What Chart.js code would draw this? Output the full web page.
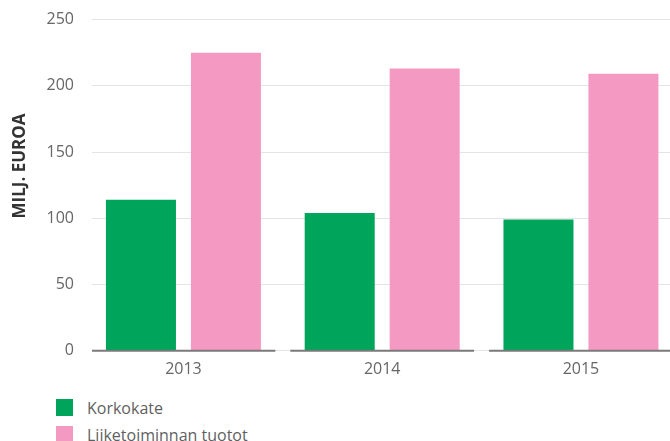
<!DOCTYPE html>
<html>
<head>
<meta charset="utf-8">
<script src="https://cdn.jsdelivr.net/npm/chart.js@4/dist/chart.umd.min.js"></script>
<style>
  html, body { margin: 0; padding: 0; background: #fff; }
  #wrap { position: relative; width: 670px; height: 441px; overflow: hidden; }
  #chart { display: block; }
  #legend { position: absolute; left: 56px; top: 394px; font-family: "Open Sans", sans-serif; font-size: 16px; color: #5f5f5f; }
  #legend .item { display: flex; align-items: center; height: 27px; line-height: 20px; }
  #legend .box { width: 17px; height: 17px; margin-right: 14px; }
</style>
</head>
<body>
<div id="wrap">
  <canvas id="chart" width="670" height="390"></canvas>
  <div id="legend"></div>
</div>
<script>
const years = ['2013', '2014', '2015'];
const korkokate = [114, 104, 99];
const liiketoiminnanTuotot = [225, 213, 209];
const yTicks = [0, 50, 100, 150, 200, 250];
const seriesNames = ['Korkokate', 'Liiketoiminnan tuotot'];
const colors = ['#00a55c', '#f49ac2'];

const FONT = '"Open Sans", sans-serif';
const GREY = '#666666';

// separate baseline piece under each year group
const baselinePlugin = {
    id: 'baseline',
    afterDatasetsDraw(chart) {
        const { ctx, chartArea, scales } = chart;
        const y = scales.y.getPixelForValue(0);
        const gap = 7.5;
        ctx.save();
        ctx.strokeStyle = '#7a7a7a';
        ctx.lineWidth = 2;
        years.forEach((_, i) => {
            const left = i === 0 ? chartArea.left : scales.x.getPixelForValue(i - 0.5) + gap;
            const right = i === years.length - 1 ? chartArea.right : scales.x.getPixelForValue(i + 0.5) - gap;
            ctx.beginPath();
            ctx.moveTo(left, y);
            ctx.lineTo(right, y);
            ctx.stroke();
        });
        ctx.restore();
    }
};

// rotated unit title, sits a bit above centre like the original
const unitTitlePlugin = {
    id: 'unitTitle',
    afterDraw(chart) {
        const ctx = chart.ctx;
        ctx.save();
        ctx.translate(20, 166);
        ctx.rotate(-Math.PI / 2);
        ctx.font = 'bold 17px ' + FONT;
        ctx.fillStyle = '#333333';
        ctx.textAlign = 'center';
        ctx.textBaseline = 'middle';
        ctx.fillText('MILJ. EUROA', 0, 0);
        ctx.restore();
    }
};

const ctx = document.getElementById('chart').getContext('2d');
const chart = new Chart(ctx, {
    type: 'bar',
    data: {
        datasets: [korkokate, liiketoiminnanTuotot].map((vals, s) => ({
            label: seriesNames[s],
            data: vals.map((v, i) => ({ x: i, y: v })),
            backgroundColor: colors[s],
            borderWidth: 0,
            categoryPercentage: 0.855,
            barPercentage: 0.824
        }))
    },
    options: {
        responsive: false,
        animation: false,
        layout: { padding: { top: 19.5, right: 0, bottom: 10, left: 0 } },
        scales: {
            x: {
                type: 'linear',
                offset: false,
                min: -0.46,
                max: 2.448,
                afterBuildTicks: scale => {
                    scale.ticks = years.map((_, i) => ({ value: i }));
                },
                ticks: {
                    callback: v => years[v],
                    color: GREY,
                    font: { family: FONT, size: 16 },
                    padding: 1,
                    maxRotation: 0
                },
                grid: { display: false, offset: false },
                border: { display: false }
            },
            y: {
                min: 0,
                max: 250,
                afterBuildTicks: scale => {
                    scale.ticks = yTicks.map(v => ({ value: v }));
                },
                afterFit: scale => { scale.width = 92; },
                ticks: {
                    color: GREY,
                    font: { family: FONT, size: 16 },
                    padding: 0
                },
                grid: { color: '#e4e4e4', lineWidth: 1, drawTicks: true, tickLength: 18, tickColor: 'rgba(0,0,0,0)' },
                border: { display: false }
            }
        },
        plugins: {
            legend: { display: false },
            tooltip: { enabled: false }
        }
    },
    plugins: [baselinePlugin, unitTitlePlugin]
});

// legend below the chart, stacked like the original
const legendEl = document.getElementById('legend');
chart.data.datasets.forEach(ds => {
    const item = document.createElement('div');
    item.className = 'item';
    item.innerHTML = `<span class="box" style="background:${ds.backgroundColor}"></span><span>${ds.label}</span>`;
    legendEl.appendChild(item);
});
</script>
</body>
</html>
